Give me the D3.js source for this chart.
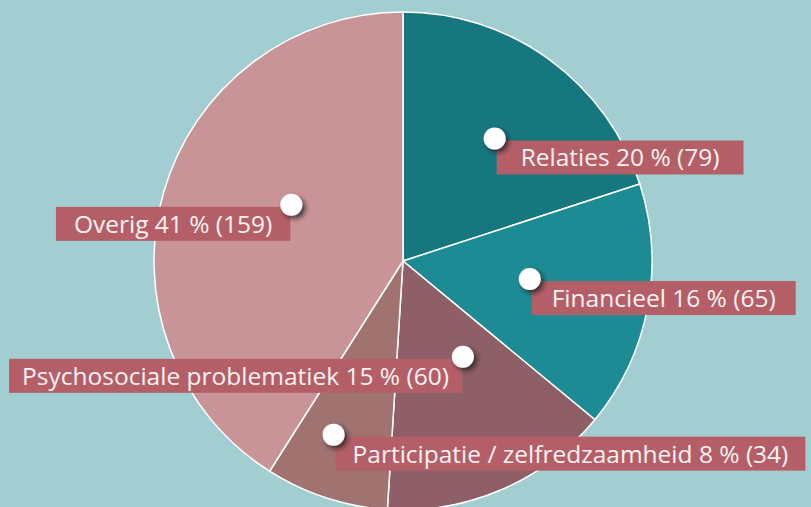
<!DOCTYPE html>
<html>
<head>
<meta charset="utf-8">
<script src="https://cdn.jsdelivr.net/npm/d3@7"></script>
<style>
  html, body { margin: 0; padding: 0; background: #a2ced2; }
  svg { display: block; }
</style>
</head>
<body>
<div id="chart"></div>
<script>
// data
var categories = ["Relaties", "Financieel", "Psychosociale problematiek", "Participatie / zelfredzaamheid", "Overig"];
var percentages = [20, 16, 15, 8, 41];
var counts = [79, 65, 60, 34, 159];
var colors = ["#17777e", "#1d8b94", "#8e5f66", "#a07270", "#c99498"];

// label placement: angle nudge (deg) from slice middle, radius of the dot, side of box, box padding
var labelNudge = [0.8, -2.7, -8.6, 3.8, 10.5];
var labelRadius = [153, 128, 113, 187, 125];
var labelSide = ["right", "right", "left", "right", "left"];
var labelPad = [24, 20, 13, 17, 18];

var width = 811, height = 507;
var cx = 403, cy = 261, radius = 249;

var svg = d3.select("#chart").append("svg")
    .attr("width", width)
    .attr("height", height);

var defs = svg.append("defs");
var shadow = defs.append("filter").attr("id", "dotshadow")
    .attr("x", "-50%").attr("y", "-50%").attr("width", "200%").attr("height", "200%");
shadow.append("feDropShadow")
    .attr("dx", 3).attr("dy", 3).attr("stdDeviation", 2.5)
    .attr("flood-color", "#1a1a1a").attr("flood-opacity", 0.75);

var data = categories.map(function(c, i){
    return {name: c, pct: percentages[i], count: counts[i], color: colors[i], i: i};
});

var pie = d3.pie().sort(null).value(function(d){ return d.pct; });
var arc = d3.arc().innerRadius(0).outerRadius(radius);
var arcs = pie(data);

var g = svg.append("g").attr("transform", "translate(" + cx + "," + cy + ")");

g.selectAll("path.slice")
    .data(arcs).enter()
    .append("path")
    .attr("class", "slice")
    .attr("d", arc)
    .style("fill", function(d){ return d.data.color; })
    .style("stroke", "#ffffff")
    .style("stroke-width", 1.5);

var labels = g.selectAll("g.label")
    .data(arcs).enter()
    .append("g")
    .attr("class", "label")
    .attr("transform", function(d){
        var i = d.data.i;
        var a = (d.startAngle + d.endAngle) / 2 + labelNudge[i] * Math.PI / 180;
        var r = labelRadius[i];
        return "translate(" + (Math.sin(a) * r) + "," + (-Math.cos(a) * r) + ")";
    });

var boxH = 34;

labels.each(function(d){
    var sel = d3.select(this);
    var i = d.data.i;
    var padX = labelPad[i];
    var rect = sel.append("rect").style("fill", "#b45f68");
    var txt = sel.append("text")
        .style("font-family", "'Open Sans', sans-serif")
        .style("font-size", "24.5px")
        .style("font-variant-ligatures", "none")
        .style("fill", "#fdf2f2")
        .text(d.data.name + " " + d.data.pct + " % (" + d.data.count + ")");
    var w = txt.node().getComputedTextLength();
    var boxW = w + padX * 2;
    var x0 = labelSide[i] == "right" ? 2 : -1 - boxW;
    rect.attr("x", x0).attr("y", 2).attr("width", boxW).attr("height", boxH);
    txt.attr("x", x0 + padX).attr("y", 2 + 26);
    sel.append("circle")
        .attr("r", 11)
        .style("fill", "#ffffff")
        .attr("filter", "url(#dotshadow)");
});
</script>
</body>
</html>
